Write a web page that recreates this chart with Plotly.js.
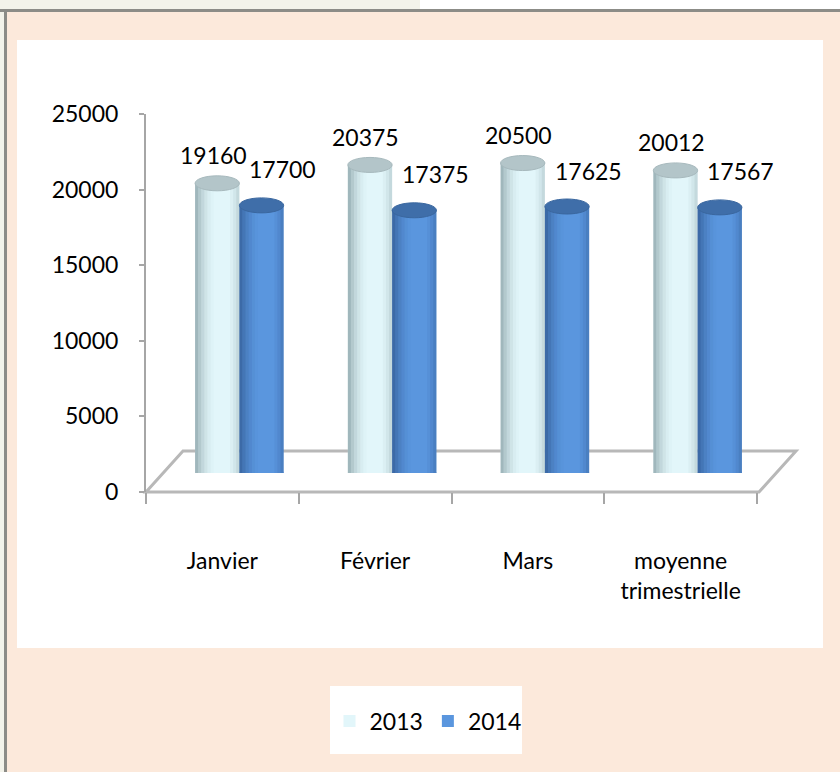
<!DOCTYPE html>
<html>
<head>
<meta charset="utf-8">
<script src="https://cdn.plot.ly/plotly-3.0.1.min.js"></script>
<style>html,body{margin:0;padding:0;background:#FCE9DB;}#chart{width:840px;height:772px;}</style>
</head>
<body>
<div id="chart"></div>
<script>
// ---- data ----
const categories = ['Janvier', 'Février', 'Mars', 'moyenne trimestrielle'];
const tickLabels = ['Janvier', 'Février', 'Mars', 'moyenne<br>trimestrielle'];
const seriesNames = ['2013', '2014'];
const values2013 = [19160, 20375, 20500, 20012];
const values2014 = [17700, 17375, 17625, 17567];
const yTickValues = [0, 5000, 10000, 15000, 20000, 25000];
const yTickLabels = ['0', '5000', '10000', '15000', '20000', '25000'];

// ---- geometry helpers (pixels -> paper) ----
const W = 840, H = 772;
const px = x => x / W;
const py = y => 1 - y / H;
const FONT = 'Lato, "Liberation Sans", sans-serif';
const FS = 23;

const barW = 0.29;          // width of one cylinder in category units
const capHalf = 496;        // half height of the elliptic caps in value units

const colors = {
  light: {body: '#E2F6FA', cap: '#B3C5C9', capLine: '#A7B9BD', edgeL: 'rgba(70,95,102,', edgeR: 'rgba(90,115,120,'},
  dark:  {body: '#5A96DE', cap: '#3F6EA9', capLine: '#3A679F', edgeL: 'rgba(20,45,90,', edgeR: 'rgba(20,45,90,'}
};

const traces = [
  {type: 'bar', name: seriesNames[0], x: categories, y: values2013, xaxis: 'x2', yaxis: 'y2',
   marker: {color: colors.light.body, line: {width: 0}}, hoverinfo: 'skip'},
  {type: 'bar', name: seriesNames[1], x: categories, y: values2014, xaxis: 'x2', yaxis: 'y2',
   marker: {color: colors.dark.body, line: {width: 0}}, hoverinfo: 'skip'},
  // empty trace so that the front (value) axes are created
  {type: 'scatter', mode: 'none', x: [], y: [], xaxis: 'x', yaxis: 'y', showlegend: false, hoverinfo: 'skip'}
];

const shapes = [];
// frame / panels (decoration)
shapes.push({type: 'rect', xref: 'paper', yref: 'paper', x0: 0, x1: px(420), y0: py(0), y1: py(9), fillcolor: '#F3F3EA', line: {width: 0}, layer: 'below'});
shapes.push({type: 'rect', xref: 'paper', yref: 'paper', x0: px(420), x1: 1, y0: py(0), y1: py(9), fillcolor: '#FFFFFF', line: {width: 0}, layer: 'below'});
shapes.push({type: 'rect', xref: 'paper', yref: 'paper', x0: 0, x1: 1, y0: py(9), y1: py(12), fillcolor: '#8C8C87', line: {width: 0}, layer: 'below'});
shapes.push({type: 'rect', xref: 'paper', yref: 'paper', x0: 0, x1: px(4), y0: 0, y1: py(12), fillcolor: '#F3F3EA', line: {width: 0}, layer: 'below'});
shapes.push({type: 'rect', xref: 'paper', yref: 'paper', x0: px(4), x1: px(7), y0: 0, y1: py(12), fillcolor: '#8C8C87', line: {width: 0}, layer: 'below'});
shapes.push({type: 'rect', xref: 'paper', yref: 'paper', x0: px(17), x1: px(823), y0: py(648), y1: py(40), fillcolor: '#FFFFFF', line: {width: 0}, layer: 'below'});
shapes.push({type: 'rect', xref: 'paper', yref: 'paper', x0: px(330), x1: px(522), y0: py(754), y1: py(686), fillcolor: '#FFFFFF', line: {width: 0}, layer: 'below'});
// 3D floor
const floorPts = [[146, 492], [759, 492], [796, 451], [183, 451]];
shapes.push({type: 'path', xref: 'paper', yref: 'paper', layer: 'below',
  path: 'M' + floorPts.map(p => px(p[0]).toFixed(5) + ',' + py(p[1]).toFixed(5)).join(' L') + ' Z',
  fillcolor: '#FFFFFF', line: {color: '#B8B8B8', width: 3}});

// cylinder decorations, derived from the data arrays
function addCylinder(i, offset, value, c) {
  const cx = i + offset;
  const x0 = cx - barW / 2, x1 = cx + barW / 2;
  shapes.push({type: 'circle', xref: 'x2', yref: 'y2', layer: 'below', x0: x0, x1: x1,
    y0: -capHalf, y1: capHalf, fillcolor: c.body, line: {width: 0}});
  const leftA = [0.42, 0.30, 0.20, 0.12, 0.06, 0.02];
  const sw = barW * 0.07;
  leftA.forEach((a, k) => shapes.push({type: 'rect', xref: 'x2', yref: 'y2', layer: 'above',
    x0: x0 + k * sw, x1: x0 + (k + 1) * sw, y0: -capHalf * 0.6, y1: value, fillcolor: c.edgeL + a + ')', line: {width: 0}}));
  const rightA = [0.22, 0.12, 0.05];
  rightA.forEach((a, k) => shapes.push({type: 'rect', xref: 'x2', yref: 'y2', layer: 'above',
    x0: x1 - (k + 1) * sw, x1: x1 - k * sw, y0: -capHalf * 0.6, y1: value, fillcolor: c.edgeR + a + ')', line: {width: 0}}));
  shapes.push({type: 'circle', xref: 'x2', yref: 'y2', layer: 'above', x0: x0, x1: x1,
    y0: value - capHalf, y1: value + capHalf, fillcolor: c.cap, line: {color: c.capLine, width: 1}});
}
values2013.forEach((v, i) => addCylinder(i, -barW / 2, v, colors.light));
values2014.forEach((v, i) => addCylinder(i, barW / 2, v, colors.dark));

// data labels
const annotations = [];
values2013.forEach((v, i) => annotations.push({xref: 'x2', yref: 'y2', x: i - barW / 2, y: v, text: String(v),
  showarrow: false, xshift: -4, yshift: 28, font: {family: FONT, size: FS, color: '#000'}}));
values2014.forEach((v, i) => annotations.push({xref: 'x2', yref: 'y2', x: i + barW / 2, y: v, text: String(v),
  showarrow: false, xshift: 21, yshift: 36, font: {family: FONT, size: FS, color: '#000'}}));

const layout = {
  width: W, height: H, autosize: false,
  margin: {l: 0, r: 0, t: 0, b: 0, pad: 0},
  paper_bgcolor: '#FCE9DB', plot_bgcolor: 'rgba(0,0,0,0)',
  font: {family: FONT, size: FS, color: '#000'},
  showlegend: true,
  legend: {orientation: 'h', x: px(428), xanchor: 'center', y: py(721), yanchor: 'middle',
    bgcolor: 'rgba(0,0,0,0)', font: {family: FONT, size: FS, color: '#000'}, itemclick: false, itemdoubleclick: false},
  barmode: 'group', bargap: 1 - 2 * barW, bargroupgap: 0,
  xaxis: {domain: [px(146), px(757)], anchor: 'y', type: 'linear', range: [-0.5, 3.5],
    tickmode: 'array', tickvals: [0, 1, 2, 3], ticktext: tickLabels, ticks: '', showgrid: false, zeroline: false,
    showline: false, ticklabelstandoff: 53, tickfont: {family: FONT, size: FS, color: '#000'},
    minor: {tickmode: 'array', tickvals: [-0.5, 0.5, 1.5, 2.5, 3.5], ticks: 'outside', ticklen: 11, tickwidth: 2, tickcolor: '#A6A6A6', showgrid: false}},
  yaxis: {domain: [py(492), py(114)], anchor: 'x', range: [0, 25000], tickmode: 'array', tickvals: yTickValues, ticktext: yTickLabels,
    ticks: 'outside', ticklen: 5, tickwidth: 2, tickcolor: '#A6A6A6', showline: true, linecolor: '#A6A6A6', linewidth: 2,
    showgrid: false, zeroline: false, ticklabelstandoff: 16, tickfont: {family: FONT, size: FS, color: '#000'}},
  xaxis2: {domain: [px(163), px(774)], anchor: 'y2', type: 'category', categoryorder: 'array', categoryarray: categories,
    range: [-0.5, 3.5], visible: false, fixedrange: true},
  yaxis2: {domain: [py(473), py(95)], anchor: 'x2', range: [0, 25000], visible: false, fixedrange: true},
  shapes: shapes,
  annotations: annotations
};

Plotly.newPlot('chart', traces, layout, {displayModeBar: false, staticPlot: true});
</script>
</body>
</html>
